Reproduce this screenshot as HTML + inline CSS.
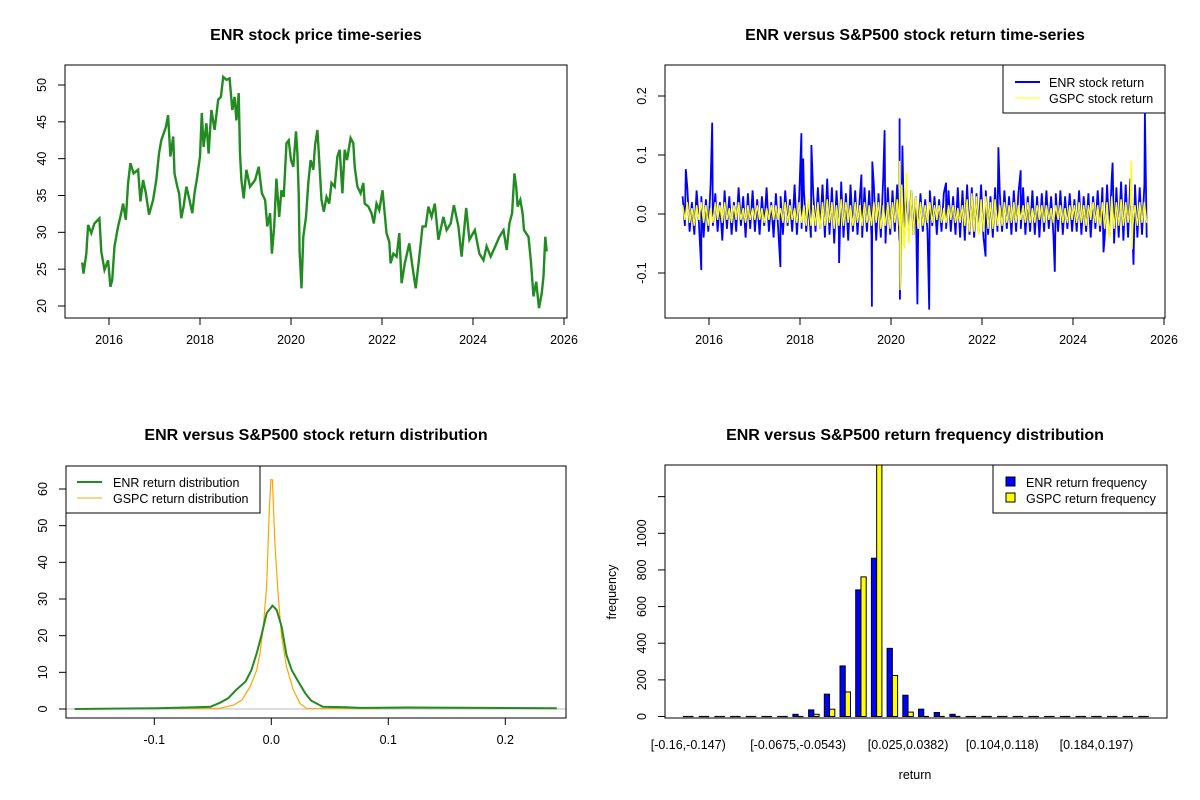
<!DOCTYPE html>
<html><head><meta charset="utf-8"><style>
body{margin:0;background:#fff;}
svg{display:block;font-family:"Liberation Sans",Arial,sans-serif;}
.t{font-size:16px;font-weight:bold;text-anchor:middle;}
.tk{font-size:12.5px;}
</style></head><body>
<svg id="svg" width="1200" height="800" xmlns="http://www.w3.org/2000/svg">
<defs>
<clipPath id="c1"><rect x="65" y="65" width="502" height="253"/></clipPath>
<clipPath id="c2"><rect x="665" y="65" width="500" height="253"/></clipPath>
<clipPath id="c3"><rect x="66" y="466" width="500" height="252"/></clipPath>
<clipPath id="c4"><rect x="665" y="465" width="502" height="253"/></clipPath>
</defs>
</svg>
<script>
// ---- Panel 1: ENR price ----
const priceYears=[2015.41,2015.44,2015.50,2015.54,2015.61,2015.68,2015.79,2015.83,2015.90,2015.98,2016.03,2016.07,2016.12,2016.20,2016.25,2016.31,2016.37,2016.42,2016.47,2016.54,2016.64,2016.69,2016.75,2016.81,2016.88,2016.97,2017.04,2017.10,2017.15,2017.25,2017.30,2017.35,2017.41,2017.44,2017.50,2017.54,2017.59,2017.64,2017.70,2017.77,2017.83,2017.88,2017.94,2018.00,2018.04,2018.08,2018.14,2018.19,2018.25,2018.32,2018.40,2018.46,2018.51,2018.58,2018.65,2018.71,2018.76,2018.80,2018.85,2018.88,2018.91,2018.96,2019.02,2019.10,2019.21,2019.29,2019.36,2019.43,2019.48,2019.54,2019.58,2019.63,2019.68,2019.74,2019.79,2019.84,2019.90,2019.95,2020.00,2020.05,2020.11,2020.14,2020.17,2020.19,2020.23,2020.27,2020.33,2020.38,2020.43,2020.49,2020.53,2020.58,2020.62,2020.67,2020.72,2020.78,2020.84,2020.89,2020.96,2021.02,2021.07,2021.13,2021.18,2021.23,2021.31,2021.37,2021.40,2021.46,2021.53,2021.59,2021.62,2021.70,2021.77,2021.82,2021.88,2021.94,2022.01,2022.06,2022.10,2022.16,2022.19,2022.25,2022.32,2022.38,2022.43,2022.50,2022.60,2022.67,2022.74,2022.81,2022.89,2022.96,2023.02,2023.09,2023.16,2023.24,2023.35,2023.42,2023.51,2023.58,2023.68,2023.75,2023.85,2023.92,2024.04,2024.14,2024.23,2024.30,2024.39,2024.49,2024.58,2024.67,2024.74,2024.80,2024.86,2024.91,2024.95,2024.98,2025.04,2025.09,2025.12,2025.22,2025.27,2025.33,2025.39,2025.45,2025.51,2025.55,2025.59,2025.62];
const prices=[25.9,24.4,27.1,31.0,29.9,31.2,31.9,27.4,24.9,26.2,22.6,23.5,28.1,30.8,32.1,33.9,31.7,36.7,39.4,38.0,38.5,34.2,37.1,35.3,32.4,34.4,37.1,40.7,42.5,44.3,45.9,40.3,43.0,38.0,36.2,35.3,31.9,33.5,36.2,34.4,32.6,35.3,37.6,40.3,46.2,41.6,44.8,40.7,46.6,43.9,48.0,48.4,51.1,50.7,50.9,46.6,48.4,45.2,48.9,40.7,37.1,34.6,38.5,36.2,37.1,38.9,35.3,34.4,30.8,32.6,27.1,30.8,37.3,32.1,35.7,34.8,42.1,42.5,39.8,38.9,43.7,40.7,35.3,27.4,22.4,29.4,32.1,36.7,39.8,38.5,41.9,43.9,39.8,34.4,32.8,34.8,33.9,36.7,36.2,40.3,41.2,35.3,41.2,39.8,42.8,42.1,38.9,36.2,35.3,36.7,33.9,33.5,32.6,31.2,33.9,33.0,35.7,32.6,29.9,28.7,25.8,27.1,26.7,29.9,23.1,25.8,28.5,25.3,22.4,26.2,30.8,30.8,33.5,32.1,33.9,29.0,32.1,30.3,31.2,33.7,30.8,26.7,33.3,29.0,30.3,27.1,26.2,28.1,26.7,28.1,29.4,30.3,27.6,31.2,32.6,38.0,36.2,33.5,34.4,32.6,30.3,29.4,26.2,21.3,23.3,19.7,21.7,24.0,29.4,27.4];
const yearTicks=[2016,2018,2020,2022,2024,2026];
const priceTicks=[20,25,30,35,40,45,50];

// ---- Panel 2: returns ----
const enrBase=[0.03,-0.02,0.045,-0.03,0.02,-0.035,0.04,-0.015,0.03,-0.04,0.025,-0.03,0.05,-0.02,0.035,-0.03,0.02,-0.045,0.04,-0.025,
0.03,-0.035,0.02,-0.03,0.045,-0.02,0.03,-0.04,0.035,-0.025,0.04,-0.03,0.025,-0.035,0.03,-0.02,0.045,-0.03,0.02,-0.04,
0.035,-0.025,0.03,-0.035,0.04,-0.02,0.025,-0.03,0.05,-0.035,0.03,-0.025,0.04,-0.03,0.02,-0.04,0.035,-0.03,0.045,-0.025,
0.05,-0.04,0.06,-0.035,0.045,-0.05,0.04,-0.03,0.055,-0.04,0.035,-0.045,0.05,-0.03,0.04,-0.035,0.03,-0.04,0.045,-0.03,
0.04,-0.035,0.05,-0.045,0.035,-0.04,0.06,-0.05,0.045,-0.035,0.04,-0.03,0.05,-0.045,0.035,-0.04,0.045,-0.03,0.04,-0.035,
0.03,-0.025,0.035,-0.03,0.025,-0.03,0.04,-0.02,0.03,-0.035,0.025,-0.03,0.035,-0.025,0.04,-0.03,0.03,-0.035,0.045,-0.04,
0.04,-0.045,0.05,-0.035,0.045,-0.04,0.035,-0.03,0.05,-0.04,0.04,-0.035,0.03,-0.04,0.045,-0.03,0.035,-0.03,0.04,-0.025,
0.03,-0.035,0.04,-0.03,0.035,-0.025,0.045,-0.035,0.03,-0.03,0.04,-0.035,0.03,-0.04,0.035,-0.03,0.04,-0.025,0.03,-0.035,
0.035,-0.03,0.04,-0.035,0.03,-0.025,0.035,-0.03,0.025,-0.03,0.04,-0.035,0.03,-0.03,0.035,-0.04,0.03,-0.025,0.04,-0.03,
0.045,-0.04,0.05,-0.035,0.06,-0.05,0.045,-0.04,0.055,-0.045,0.05,-0.04,0.06,-0.045,0.05,-0.04,0.045,-0.035,0.05,-0.04];
const gspcBase=[0.015,-0.01,0.02,-0.015,0.01,-0.02,0.015,-0.01,0.02,-0.015,0.015,-0.02,0.01,-0.015,0.02,-0.01,0.015,-0.015,0.02,-0.01,
0.01,-0.015,0.015,-0.01,0.02,-0.01,0.01,-0.015,0.015,-0.01,0.01,-0.01,0.015,-0.01,0.01,-0.015,0.01,-0.01,0.015,-0.01,
0.015,-0.01,0.01,-0.015,0.02,-0.015,0.015,-0.01,0.01,-0.015,0.02,-0.015,0.015,-0.02,0.025,-0.02,0.015,-0.02,0.02,-0.025,
0.02,-0.02,0.025,-0.015,0.02,-0.025,0.015,-0.02,0.025,-0.02,0.02,-0.015,0.015,-0.02,0.02,-0.015,0.015,-0.02,0.02,-0.015,
0.015,-0.02,0.02,-0.015,0.02,-0.025,0.015,-0.02,0.02,-0.025,0.02,-0.015,0.025,-0.02,0.05,-0.06,0.07,-0.05,0.04,-0.035,
0.03,-0.025,0.02,-0.02,0.015,-0.015,0.02,-0.015,0.015,-0.01,0.015,-0.015,0.01,-0.015,0.015,-0.01,0.015,-0.015,0.01,-0.015,
0.015,-0.02,0.025,-0.03,0.035,-0.03,0.03,-0.035,0.025,-0.03,0.03,-0.025,0.02,-0.025,0.025,-0.02,0.015,-0.02,0.02,-0.015,
0.015,-0.015,0.02,-0.015,0.015,-0.01,0.015,-0.015,0.02,-0.015,0.01,-0.015,0.015,-0.01,0.015,-0.015,0.015,-0.01,0.01,-0.015,
0.015,-0.01,0.015,-0.015,0.01,-0.015,0.015,-0.01,0.015,-0.015,0.02,-0.015,0.015,-0.02,0.015,-0.01,0.02,-0.015,0.015,-0.02,
0.02,-0.025,0.02,-0.04,0.03,-0.025,0.02,-0.02,0.025,-0.02,0.02,-0.015,0.02,-0.02,0.015,-0.02,0.02,-0.015,0.02,-0.015];
const enrSpikeYears=[2015.49,2015.83,2016.07,2017.57,2018.03,2018.07,2018.25,2018.86,2019.35,2019.58,2019.59,2019.86,2020.19,2020.195,2020.25,2020.58,2020.84,2021.21,2022.08,2022.36,2022.85,2023.60,2024.67,2024.87,2025.33,2025.58];
const enrSpikeValues=[0.076,-0.095,0.155,-0.09,0.137,0.094,0.117,-0.083,0.067,-0.157,0.089,0.142,0.162,-0.145,0.116,-0.153,-0.162,0.053,-0.072,0.113,0.074,-0.098,-0.065,0.087,-0.086,0.172];
const gspcSpikeYears=[2020.19,2020.20,2025.28,2025.30];
const gspcSpikeValues=[0.09,-0.129,0.09,-0.06];
const returnTicks=[-0.1,0.0,0.1,0.2];

// ---- Panel 3: densities ----
const enrDensX=[-0.168,-0.098,-0.064,-0.052,-0.044,-0.037,-0.030,-0.022,-0.017,-0.0125,-0.008,-0.004,0.001,0.0046,0.0088,0.013,0.0174,0.023,0.029,0.034,0.044,0.064,0.076,0.116,0.244];
const enrDensY=[0,0.2,0.5,0.6,1.7,2.9,5.2,7.5,10.6,15.2,20.6,26.1,28.2,27,22.5,14.7,10.6,7.5,4.3,2.3,0.6,0.5,0.3,0.4,0.2];
const gspcDensX=[-0.168,-0.067,-0.044,-0.032,-0.025,-0.018,-0.0125,-0.0097,-0.0068,-0.004,-0.0017,-0.0003,0.0009,0.0031,0.006,0.0088,0.013,0.0188,0.0245,0.030,0.093];
const gspcDensY=[0.1,0.2,0.2,1.1,2.5,6.1,10.6,15.2,22.5,33.4,54.3,62.6,62.5,45.2,30.6,19.7,11.5,5.2,1.5,0.2,0.1];
const densXTicks=[-0.1,0.0,0.1,0.2];
const densYTicks=[0,10,20,30,40,50,60];

// ---- Panel 4: histogram ----
const binLabels=["[-0.16,-0.147)","[-0.0675,-0.0543)","[0.025,0.0382)","[0.104,0.118)","[0.184,0.197)"];
const binLabelIdx=[0,7,14,20,26];
const enrFreq=[2,2,0,1,2,2,3,12,36,122,276,691,864,372,116,40,22,12,5,1,2,1,2,1,0,0,0,0,0,0];
const gspcFreq=[1,1,0,0,1,0,1,5,12,40,134,762,1500,224,24,4,2,1,0,0,0,0,0,0,0,0,0,0,0,0];
const freqTicks=[0,200,400,600,800,1000,1200];

const svg=document.getElementById('svg');
const NS='http://www.w3.org/2000/svg';
function mk(tag,attrs,parent){const e=document.createElementNS(NS,tag);for(const k in attrs)e.setAttribute(k,attrs[k]);(parent||svg).appendChild(e);return e;}
function txt(x,y,s,attrs,parent){const e=mk('text',Object.assign({x:x,y:y},attrs||{}),parent);e.textContent=s;return e;}
function lin(a0,a1,p0,p1){return v=>p0+(v-a0)*(p1-p0)/(a1-a0);}

function xAxis(g,ticks,sx,y,fmt,name){
  const ax=mk('g',{},g);
  
  
  mk('line',{x1:sx(ticks[0]),x2:sx(ticks[ticks.length-1]),y1:y,y2:y,stroke:'#000'},ax);
  ticks.forEach(t=>{mk('line',{x1:sx(t),x2:sx(t),y1:y,y2:y+7,stroke:'#000'},ax);
    txt(sx(t),y+26,fmt(t),{class:'tk','text-anchor':'middle'},ax);});
}
function yAxis(g,ticks,sy,x,fmt,name,labelSkip){
  const ax=mk('g',{},g);
  
  
  mk('line',{x1:x,x2:x,y1:sy(ticks[0]),y2:sy(ticks[ticks.length-1]),stroke:'#000'},ax);
  ticks.forEach((t,i)=>{mk('line',{x1:x-7,x2:x,y1:sy(t),y2:sy(t),stroke:'#000'},ax);
    if(labelSkip&&labelSkip(t))return;
    txt(x-19,sy(t),fmt(t),{class:'tk','text-anchor':'middle',transform:`rotate(-90 ${x-19} ${sy(t)})`},ax);});
}
function frame(x,y,w,h,name){const r=mk('rect',{x:x,y:y,width:w,height:h,fill:'none',stroke:'#000'});}
function poly(xs,ys,sx,sy,attrs,clip,name){
  const pts=xs.map((v,i)=>sx(v).toFixed(1)+','+sy(ys[i]).toFixed(1)).join(' ');
  const p=mk('polyline',Object.assign({points:pts,fill:'none','clip-path':`url(#${clip})`},attrs));
  return p;
}

// Panel 1
{
  const sx=lin(2016,2026,109,564), sy=lin(20,50,306,85);
  const g=mk('g',{});
  
  
  const t=txt(316,40,'ENR stock price time-series',{class:'t'},g);
  
  
  poly(priceYears,prices,sx,sy,{stroke:'#228B22','stroke-width':2.4,'stroke-linejoin':'miter'},'c1','price-line');
  frame(65,65,502,253,'price-plot-frame');
  xAxis(g,yearTicks,sx,318,v=>String(v),'price-x-axis');
  yAxis(g,priceTicks,sy,65,v=>String(v),'price-y-axis');
}
// Panel 2
{
  const sx=lin(2016,2026,709,1164), sy=lin(0,0.1,214,155);
  const g=mk('g',{});
  
  
  const t=txt(915,40,'ENR versus S&P500 stock return time-series',{class:'t'},g);
  
  
  function merge(base,sY,sV){
    const pts=base.map((v,i)=>[2015.42+i*(10.2/(base.length-1)),v]);
    sY.forEach((y,i)=>pts.push([y,sV[i]]));
    pts.sort((a,b)=>a[0]-b[0]);
    return [pts.map(p=>p[0]),pts.map(p=>p[1])];
  }
  const e=merge(enrBase,enrSpikeYears,enrSpikeValues);
  poly(e[0],e[1],sx,sy,{stroke:'#0000FF','stroke-width':1.8},'c2','enr-return-line');
  const s=merge(gspcBase,gspcSpikeYears,gspcSpikeValues);
  poly(s[0],s[1],sx,sy,{stroke:'#FFFF00','stroke-width':1.4},'c2','gspc-return-line');
  frame(665,65,500,253,'returns-plot-frame');
  xAxis(g,yearTicks,sx,318,v=>String(v),'returns-x-axis');
  yAxis(g,returnTicks,sy,665,v=>v.toFixed(1),'returns-y-axis');
  const lg=mk('g',{},g);
  
  
  mk('rect',{x:1003,y:65,width:162,height:48,fill:'#fff',stroke:'#000'},lg);
  mk('line',{x1:1015,x2:1040,y1:82,y2:82,stroke:'#0000FF','stroke-width':2},lg);
  mk('line',{x1:1015,x2:1040,y1:98,y2:98,stroke:'#FFFF00','stroke-width':1},lg);
  txt(1049,87,'ENR stock return',{class:'tk'},lg);
  txt(1049,103,'GSPC stock return',{class:'tk'},lg);
}
// Panel 3
{
  const sx=lin(0,0.1,271.3,388.3), sy=lin(0,60,709,489);
  const g=mk('g',{});
  
  
  const t=txt(316,440,'ENR versus S&P500 stock return distribution',{class:'t'},g);
  
  
  const bl=mk('line',{x1:66,x2:566,y1:sy(0),y2:sy(0),stroke:'#bebebe'},g);
  
  
  poly(gspcDensX,gspcDensY,sx,sy,{stroke:'#FFA500','stroke-width':1.2},'c3','gspc-density-line');
  poly(enrDensX,enrDensY,sx,sy,{stroke:'#228B22','stroke-width':2},'c3','enr-density-line');
  frame(66,466,500,252,'density-plot-frame');
  xAxis(g,densXTicks,sx,718,v=>v.toFixed(1),'density-x-axis');
  yAxis(g,densYTicks,sy,66,v=>String(v),'density-y-axis');
  const lg=mk('g',{},g);
  
  
  mk('rect',{x:66,y:466,width:194,height:47,fill:'#fff',stroke:'#000'},lg);
  mk('line',{x1:77,x2:102,y1:482,y2:482,stroke:'#228B22','stroke-width':2},lg);
  mk('line',{x1:77,x2:102,y1:498,y2:498,stroke:'#FFA500','stroke-width':1},lg);
  txt(113,487,'ENR return distribution',{class:'tk'},lg);
  txt(113,503,'GSPC return distribution',{class:'tk'},lg);
}
// Panel 4
{
  const sy=lin(0,1000,716.5,533.3);
  const step=15.7, bw=5.25, x0=683;
  const g=mk('g',{});
  
  
  const t=txt(915,440,'ENR versus S&P500 return frequency distribution',{class:'t'},g);
  
  
  const bars=mk('g',{'clip-path':'url(#c4)'},g);
  function bar(x,v,fill,name){
    if(sy(0)-sy(v)<1){
      const l=mk('line',{x1:x,x2:x+bw,y1:sy(0),y2:sy(0),stroke:'#000','stroke-width':1.2},bars);
      
      
      return;
    }
    const r=mk('rect',{x:x,y:sy(v),width:bw,height:sy(0)-sy(v),fill:fill,stroke:'#000','stroke-width':1},bars);
    
    
  }
  enrFreq.forEach((v,i)=>bar(x0+i*step,v,'#0000FF','enr-freq-bar'));
  gspcFreq.forEach((v,i)=>bar(x0+i*step+bw,v,'#FFFF00','gspc-freq-bar'));
  frame(665,465,502,253,'histogram-plot-frame');
  yAxis(g,freqTicks,sy,665,v=>String(v),'histogram-y-axis',v=>v>1000);
  binLabelIdx.forEach((b,i)=>{
    const l=txt(x0+b*step+bw,749,binLabels[i],{class:'tk','text-anchor':'middle'},g);
    
    
  });
  const xl=txt(915,779,'return',{class:'tk','text-anchor':'middle','font-size':'12px'},g);
  
  
  const yl=txt(616,592,'frequency',{class:'tk','text-anchor':'middle',transform:'rotate(-90 616 592)','font-size':'12px'},g);
  
  
  const lg=mk('g',{},g);
  
  
  mk('rect',{x:993,y:465,width:174,height:48,fill:'#fff',stroke:'#000'},lg);
  mk('rect',{x:1006,y:477,width:9,height:9,fill:'#0000FF',stroke:'#000'},lg);
  mk('rect',{x:1006,y:493,width:9,height:9,fill:'#FFFF00',stroke:'#000'},lg);
  txt(1026,487,'ENR return frequency',{class:'tk'},lg);
  txt(1026,503,'GSPC return frequency',{class:'tk'},lg);
}
</script>
</body></html>
